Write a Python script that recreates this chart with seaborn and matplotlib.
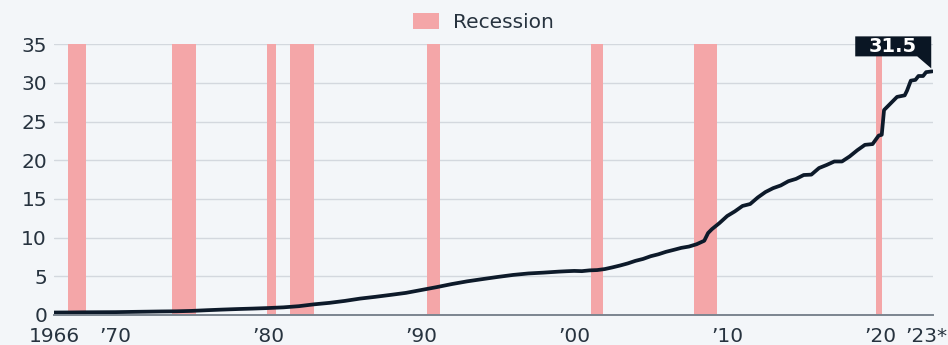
import matplotlib
matplotlib.use("Agg")
import matplotlib.pyplot as plt
import matplotlib.transforms as mtransforms
from matplotlib.patches import Patch, Polygon
import seaborn as sns
import pandas as pd

# ---------------- data ----------------
years = [1966.0, 1967.0, 1968.0, 1969.0, 1970.0, 1971.0, 1972.0, 1973.0, 1974.0, 1975.0,
         1976.0, 1977.0, 1978.0, 1979.0, 1980.0, 1981.0, 1982.0, 1983.0, 1984.0, 1985.0,
         1986.0, 1987.0, 1988.0, 1989.0, 1990.0, 1991.0, 1992.0, 1993.0, 1994.0, 1995.0,
         1996.0, 1997.0, 1998.0, 1999.0, 1999.5, 2000.0, 2000.5, 2001.0, 2001.5, 2002.0,
         2002.5, 2003.0, 2003.5, 2004.0, 2004.5, 2005.0, 2005.5, 2006.0, 2006.5, 2007.0,
         2007.5, 2008.0, 2008.5, 2008.75, 2009.0, 2009.5, 2010.0, 2010.5, 2011.0, 2011.5,
         2012.0, 2012.5, 2013.0, 2013.5, 2014.0, 2014.5, 2015.0, 2015.5, 2016.0, 2016.5,
         2017.0, 2017.5, 2018.0, 2018.5, 2019.0, 2019.5, 2019.9, 2020.1, 2020.25, 2020.5,
         2020.9, 2021.1, 2021.6, 2021.75, 2022.0, 2022.3, 2022.5, 2022.8, 2023.0, 2023.4]
debt = [0.32, 0.33, 0.35, 0.36, 0.37, 0.40, 0.43, 0.46, 0.48, 0.53,
        0.62, 0.70, 0.77, 0.83, 0.90, 0.99, 1.14, 1.38, 1.57, 1.82,
        2.12, 2.35, 2.60, 2.86, 3.23, 3.60, 4.00, 4.35, 4.64, 4.92,
        5.18, 5.37, 5.48, 5.61, 5.66, 5.70, 5.67, 5.77, 5.81, 5.94,
        6.16, 6.40, 6.67, 7.00, 7.25, 7.60, 7.85, 8.17, 8.42, 8.68,
        8.85, 9.15, 9.60, 10.6, 11.1, 11.9, 12.8, 13.4, 14.1, 14.35,
        15.2, 15.9, 16.4, 16.75, 17.3, 17.6, 18.1, 18.15, 19.0, 19.4,
        19.85, 19.85, 20.5, 21.3, 22.0, 22.1, 23.2, 23.3, 26.5, 27.0,
        27.8, 28.2, 28.4, 29.0, 30.3, 30.4, 30.9, 30.9, 31.4, 31.5]

rec_start = [1966.9, 1973.7, 1979.9, 1981.4, 1990.4, 2001.1, 2007.8, 2019.75]
rec_end = [1968.1, 1975.3, 1980.5, 1983.0, 1991.2, 2001.9, 2009.3, 2020.1]

tick_years = [1966, 1970, 1980, 1990, 2000, 2010, 2020, 2023]
tick_labels = ["1966", "\u201970", "\u201980", "\u201990", "\u201900", "\u201910", "\u201920", "\u201923*"]
y_ticks = [0, 5, 10, 15, 20, 25, 30, 35]
last_label = "31.5"

# ---------------- style ----------------
BG = "#f3f6f9"
PINK = "#f4a6a8"
LINE = "#0d1a2a"
TXT = "#27333f"

sns.set_theme(style="white")
plt.rcParams["font.family"] = ["DejaVu Sans"]

fig = plt.figure(figsize=(9.48, 3.45), dpi=100, facecolor=BG)
ax = fig.add_axes([54 / 948, 1 - 315 / 345, (933 - 54) / 948, (315 - 44.3) / 345])
ax.set_facecolor(BG)

for s, e in zip(rec_start, rec_end):
    ax.axvspan(s, e, ymin=0, ymax=1, color=PINK, lw=0, zorder=1)

df = pd.DataFrame({"year": years, "debt": debt})
sns.lineplot(data=df, x="year", y="debt", ax=ax, color=LINE, linewidth=2.7, zorder=3)

ax.set_xlim(1966, 2023.45)
ax.set_ylim(0, 35)
ax.set_yticks(y_ticks)
ax.set_yticklabels([str(v) for v in y_ticks])
ax.set_xticks(tick_years)
ax.set_xticklabels(tick_labels)
ax.set_xlabel("")
ax.set_ylabel("")

ax.grid(axis="y", color="#d3d8de", linewidth=1.0, zorder=0)
ax.grid(axis="x", visible=False)
ax.set_axisbelow(True)
for side in ["top", "right", "left"]:
    ax.spines[side].set_visible(False)
ax.spines["bottom"].set_color("#7b8590")
ax.spines["bottom"].set_linewidth(1.4)
ax.spines["bottom"].set_zorder(4)

ax.tick_params(axis="y", length=0, pad=5, labelsize=14.5, labelcolor=TXT)
ax.tick_params(axis="x", length=0, pad=9, labelsize=14.5, labelcolor=TXT)

# legend
handle = Patch(facecolor=PINK, edgecolor="none", label="Recession")
fig.legend(handles=[handle], loc="upper center", bbox_to_anchor=(0.51, 1.015),
           frameon=False, fontsize=14.5, labelcolor=TXT, handlelength=1.3,
           handleheight=0.8, handletextpad=0.7)

# end-value callout
x_last, y_last = years[-1], debt[-1]
trans = fig.dpi_scale_trans + mtransforms.ScaledTranslation(x_last, y_last, ax.transData)
verts = [(-0.77, 0.35), (-0.01, 0.35), (-0.01, 0.03), (-0.15, 0.15), (-0.77, 0.15)]
box = Polygon(verts, closed=True, transform=trans, facecolor="#0a1624",
              edgecolor="none", clip_on=False, zorder=5)
ax.add_patch(box)
ax.annotate(last_label, xy=(x_last, y_last), xytext=(-39, 25), textcoords="offset pixels",
            ha="center", va="center", color="white", fontsize=14, fontweight="bold",
            annotation_clip=False, zorder=6)

fig.savefig("out.png", dpi=100, facecolor=BG)
